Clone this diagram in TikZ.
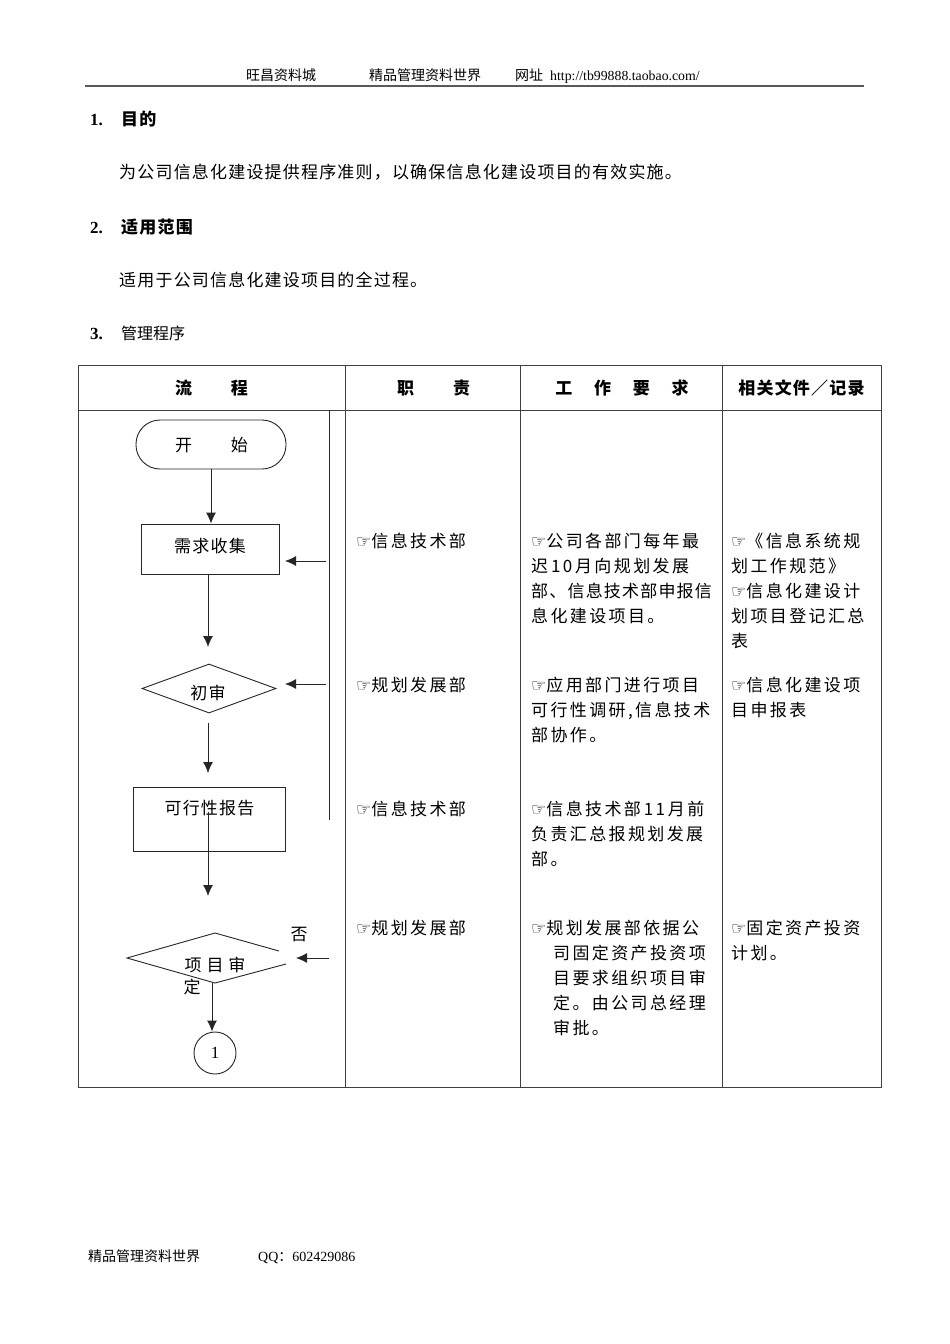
\documentclass[tikz,border=0pt]{standalone}
\usepackage{fontspec}
\setmainfont{Liberation Serif}
\newfontfamily\cjk{Noto Sans CJK SC}
\newfontfamily\cjksp[LetterSpace=14]{Noto Sans CJK SC}
\newfontfamily\cjkbody[LetterSpace=7]{Noto Sans CJK SC}
\newfontfamily\symf{DejaVu Sans}
\newcommand\hand{{\symf\fontsize{17}{17}\selectfont ☞}}
\usetikzlibrary{arrows.meta,shapes.geometric}
\begin{document}
\begin{tikzpicture}[x=1pt,y=-1pt,
  ln/.style={line width=0.9pt,draw=black!85},
  arr/.style={ln,-{Latex[length=11pt,width=10pt]}},
  tbl/.style={line width=0.9pt,draw=black!75},
  fbox/.style={ln,rectangle,inner sep=0pt},
  cell/.style={anchor=base west,inner sep=0pt,font=\cjksp\fontsize{17}{17}\selectfont},
  lab/.style={inner sep=0pt,font=\cjkbody\fontsize{17}{17}\selectfont},
  body/.style={anchor=base west,inner sep=0pt,font=\cjkbody\fontsize{17}{17}\selectfont},
  head/.style={anchor=base west,inner sep=0pt,font=\cjkbody\bfseries\fontsize{17}{17}\selectfont},
  thead/.style={inner sep=0pt,font=\cjk\bfseries\fontsize{17}{17}\selectfont},
  small/.style={anchor=base west,inner sep=0pt,font=\cjk\fontsize{14}{14}\selectfont}]
\useasboundingbox (0,0) rectangle (950,1344);
\fill[white] (0,0) rectangle (950,1344);

% page header
\node[small] (h1) at (246,80.3) {旺昌资料城};
\node[small] (h2) at (369,80.3) {精品管理资料世界};
\node[small] (h3) at (515,80.3) {网址};
\node[anchor=base west,inner sep=0pt,font=\rmfamily\fontsize{13.8}{13.8}\selectfont] (h4) at (550,80.3) {http://tb99888.taobao.com/};
\draw[line width=1.6pt,black!65] (85,86) -- (864,86);

% sections
\node[anchor=base west,inner sep=0pt,font=\rmfamily\bfseries\fontsize{17}{17}\selectfont] (n1) at (90,125.5) {1.};
\node[head] (s1) at (121,125.5) {目的};
\node[body] (p1) at (119,178.5) {为公司信息化建设提供程序准则，以确保信息化建设项目的有效实施。};
\node[anchor=base west,inner sep=0pt,font=\rmfamily\bfseries\fontsize{17}{17}\selectfont] (n2) at (90,233.5) {2.};
\node[head] (s2) at (121,233.5) {适用范围};
\node[body] (p2) at (119,286.5) {适用于公司信息化建设项目的全过程。};
\node[anchor=base west,inner sep=0pt,font=\rmfamily\bfseries\fontsize{17}{17}\selectfont] (n3) at (90,339.5) {3.};
\node[anchor=base west,inner sep=0pt,font=\cjk\fontsize{16}{16}\selectfont] (s3) at (121,339) {管理程序};

% table
\draw[tbl] (78,365) rectangle (881,1087);
\draw[tbl] (78,410) -- (881,410);
\draw[tbl] (345,365) -- (345,1087);
\draw[tbl] (520,365) -- (520,1087);
\draw[tbl] (722,365) -- (722,1087);
\node[thead] (th1) at (211.5,388) {流\hspace{39pt}程};
\node[thead] (th2) at (433.5,388) {职\hspace{39pt}责};
\node[thead] (th3) at (622,388) {工\hspace{21.7pt}作\hspace{21.7pt}要\hspace{21.7pt}求};
\node[inner sep=0pt,font=\cjkbody\bfseries\fontsize{17}{17}\selectfont] (th4) at (801.5,388) {相关文件／记录};

% flowchart
\node[ln,rounded corners=24pt,minimum width=150pt,minimum height=49pt,inner sep=0pt] (start) at (211,444.5) {};
\node[lab,font=\cjk\fontsize{17}{17}\selectfont] (starttxt) at (211.5,445) {开\hspace{39pt}始};
\node[fbox,minimum width=138pt,minimum height=50pt] (collect) at (210,549) {};
\node[lab] (collecttxt) at (210,546) {需求收集};
\node[diamond,ln,minimum width=134pt,minimum height=49pt,inner sep=0pt] (review) at (209,688.5) {};
\node[lab] (reviewtxt) at (208,693) {初审};
\node[fbox,minimum width=152pt,minimum height=64pt] (feas) at (209,819) {};
\node[lab] (feastxt) at (209.5,808) {可行性报告};
\coordinate (d2l) at (127,958);
\coordinate (d2t) at (215,933);
\coordinate (d2b) at (215,983);
\draw[ln] (279,951) -- (d2t) -- (d2l) -- (d2b) -- (286,964);
\node[lab,font=\cjk\fontsize{17}{17}\selectfont] (d2txt) at (215,965) {项\hspace{5pt}目\hspace{5pt}审};
\node[lab,font=\cjk\fontsize{17}{17}\selectfont] (d2txt2) at (192,987) {定};
\node[lab,font=\cjk\fontsize{17}{17}\selectfont] (no) at (299,935) {否};
\node[circle,ln,minimum size=42pt,inner sep=0pt,font=\rmfamily\fontsize{17}{17}\selectfont] (c1) at (215,1053) {1};

\draw[arr] (start.south) -- (start.south |- collect.north);
\coordinate (a2s) at (208,574); \coordinate (a2e) at (208,647);
\draw[arr] (a2s) -- (a2e);
\coordinate (a3s) at (208,723); \coordinate (a3e) at (208,773);
\draw[arr] (a3s) -- (a3e);
\coordinate (a4s) at (208,812); \coordinate (a4e) at (208,896);
\draw[arr] (a4s) -- (a4e);
\coordinate (a5s) at (212,983);
\draw[arr] (a5s) -- (a5s |- c1.north);

\coordinate (fbt) at (329,410); \coordinate (fbb) at (329,820);
\draw[ln] (fbt) -- (fbb);
\coordinate (f1s) at (326,561); \coordinate (f1e) at (285,561);
\draw[arr] (f1s) -- (f1e);
\coordinate (f2s) at (326,684); \coordinate (f2e) at (285,684);
\draw[arr] (f2s) -- (f2e);
\coordinate (f3s) at (329,958); \coordinate (f3e) at (296,958);
\draw[arr] (f3s) -- (f3e);

% column 2
\node[cell] (r1) at (356,547.5) {\hand 信息技术部};
\node[cell] (r2) at (356,691.5) {\hand 规划发展部};
\node[cell] (r3) at (356,815.5) {\hand 信息技术部};
\node[cell] (r4) at (356,934.5) {\hand 规划发展部};

% column 3
\foreach \t [count=\i from 0] in {\hand 公司各部门每年最, 迟\,10\,月向规划发展, {\cjkbody 部、信息技术部申报信}, 息化建设项目。}
  \node[cell] (w1\i) at (531,547.5+25*\i) {\t};
\foreach \t [count=\i from 0] in {\hand 应用部门进行项目, {可行性调研,信息技术}, 部协作。}
  \node[cell] (w2\i) at (531,691.5+25*\i) {\t};
\foreach \t [count=\i from 0] in {\hand 信息技术部\,11\,月前, 负责汇总报规划发展, 部。}
  \node[cell] (w3\i) at (531,815.5+25*\i) {\t};
\node[cell] (w40) at (531,934.5) {\hand 规划发展部依据公};
\foreach \t [count=\i from 1] in {司固定资产投资项, 目要求组织项目审, 定。由公司总经理, 审批。}
  \node[cell] (w4\i) at (553,934.5+25*\i) {\t};

% column 4
\foreach \t [count=\i from 0] in {\hand《信息系统规, 划工作规范》, \hand 信息化建设计, 划项目登记汇总, 表}
  \node[cell] (d1\i) at (731,547.5+25*\i) {\t};
\foreach \t [count=\i from 0] in {\hand 信息化建设项, 目申报表}
  \node[cell] (d2\i) at (731,691.5+25*\i) {\t};
\foreach \t [count=\i from 0] in {\hand 固定资产投资, 计划。}
  \node[cell] (d4\i) at (731,934.5+25*\i) {\t};

% footer
\node[small] (f1) at (88,1261.3) {精品管理资料世界};
\node[anchor=base west,inner sep=0pt,font=\rmfamily\fontsize{14}{14}\selectfont] (f2) at (258,1261.3) {QQ{\cjk ：}602429086};
\end{tikzpicture}
\end{document}
